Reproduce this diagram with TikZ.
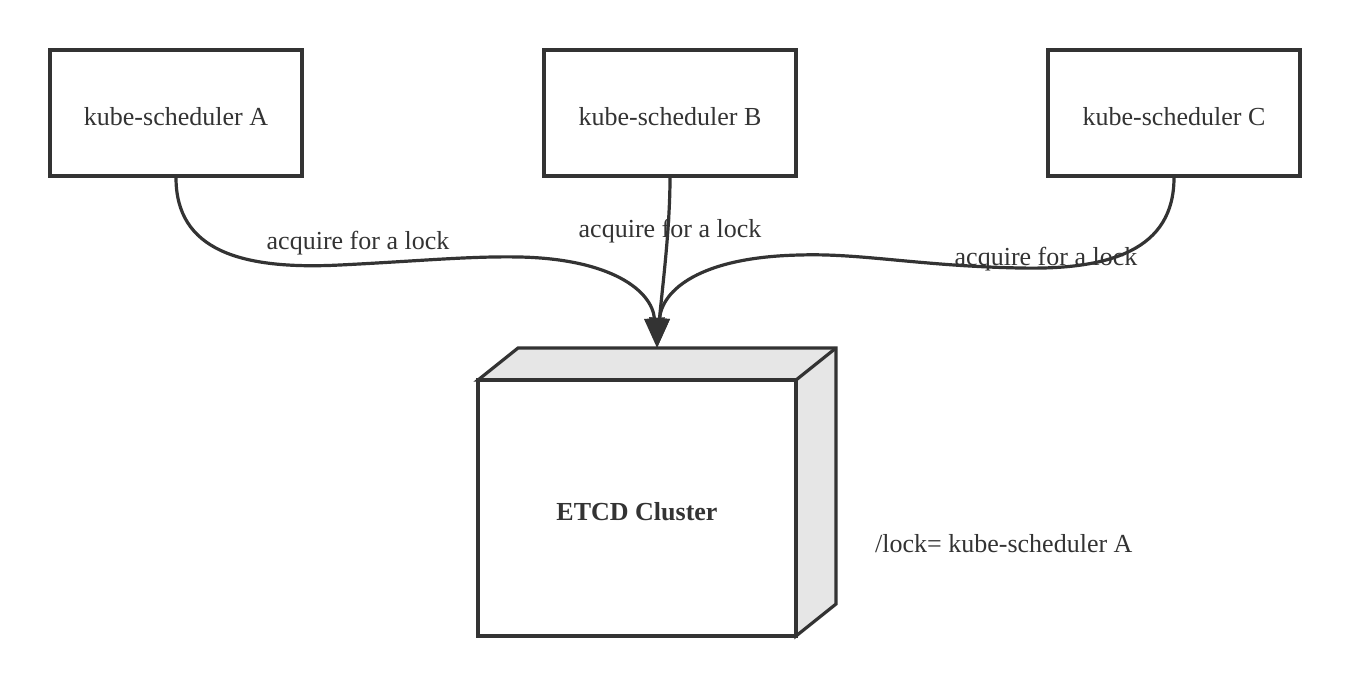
\documentclass[tikz,border=0pt]{standalone}
\usepackage{fontspec}
\setmainfont{Liberation Serif}
\usetikzlibrary{arrows.meta}
\definecolor{ink}{HTML}{333333}
\definecolor{shade}{HTML}{E6E6E6}
\begin{document}
\begin{tikzpicture}[x=1pt,y=-1pt,
  sched/.style={draw=ink,line width=3.2pt,minimum width=252pt,minimum height=126pt,inner sep=0pt,text height=25pt,text depth=0pt,text=ink,font=\fontsize{26}{30}\selectfont},
  lbl/.style={text=ink,font=\fontsize{26}{30}\selectfont,inner sep=1pt},
  conn/.style={draw=ink,line width=3.2pt,-{Triangle[length=30pt,width=20pt]}}]
\useasboundingbox (0,0) rectangle (1350,686);
\node[sched] (A) at (176,113) {kube-scheduler A};
\node[sched] (B) at (670,113) {kube-scheduler B};
\node[sched] (C) at (1174,113) {kube-scheduler C};
% ETCD cube
\filldraw[fill=shade,draw=ink,line width=3.2pt,line join=miter] (478,380) -- (518,348) -- (836,348) -- (836,604) -- (796,636) -- (796,380) -- cycle;
\draw[ink,line width=3.2pt] (796,380) -- (836,348);
\node[draw=ink,fill=white,line width=3.2pt,minimum width=318pt,minimum height=256pt,inner sep=0pt,text height=25pt,text depth=0pt,text=ink,font=\fontsize{26}{30}\selectfont\bfseries] (E) at (637,508) {ETCD Cluster};
\coordinate (tip) at (657,348);
\draw[conn] (A.south) .. controls (176,250) and (240,270) .. (340,265) .. controls (420,261) and (470,256) .. (520,257) .. controls (610,259) and (652,290) .. (tip);
\draw[conn] (B.south) .. controls (670,230) and (662,290) .. (tip);
\draw[conn] (C.south) .. controls (1174,250) and (1110,270) .. (1020,268) .. controls (920,266) and (860,253) .. (800,255) .. controls (700,257) and (662,290) .. (tip);
\node[lbl] at (358,243) {acquire for a lock};
\node[lbl] at (670,231) {acquire for a lock};
\node[lbl] at (1046,259) {acquire for a lock};
\node[lbl,anchor=west] (L) at (874,544) {/lock= kube-scheduler A};
\end{tikzpicture}
\end{document}
